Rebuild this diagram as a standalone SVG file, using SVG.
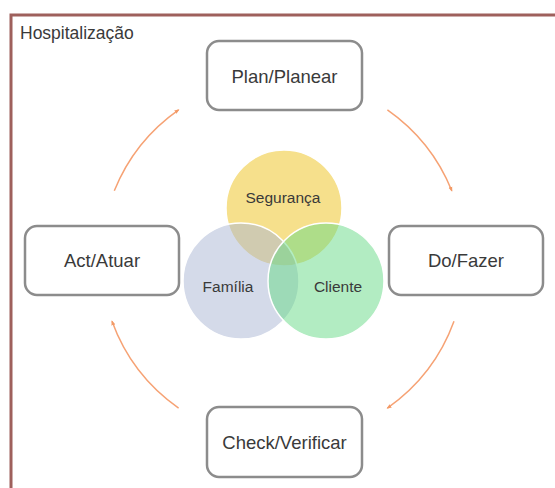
<svg xmlns="http://www.w3.org/2000/svg" width="555" height="488" viewBox="0 0 555 488">
  <defs>
    <marker id="ah" viewBox="0 0 10 10" refX="8" refY="5" markerWidth="5" markerHeight="5" orient="auto" markerUnits="userSpaceOnUse">
      <path d="M0,1 L10,5 L0,9 z" fill="#F39A66"/>
    </marker>
    <style>
      .box { fill: #ffffff; stroke: #8C8C8C; stroke-width: 2.5; }
      .lbl { font-family: "Liberation Sans", Arial, sans-serif; fill: #3A3A3A; text-anchor: middle; dominant-baseline: central; }
      .boxt { font-size: 18.5px; }
      .vt { font-size: 15.5px; fill: #3A3A3A; }
      .arc { fill: none; stroke: #F6A274; stroke-width: 1.5; marker-end: url(#ah); }
      .venn { stroke: #ffffff; stroke-width: 1.5; fill-opacity: 0.5; }
    </style>
  </defs>
  <rect x="0" y="0" width="555" height="488" fill="#ffffff"/>
  <g id="frame">
    <rect x="11" y="15" width="570" height="500" fill="none" stroke="#9E605C" stroke-width="3"/>
    <text class="lbl" x="20" y="33" style="text-anchor:start;font-size:17.5px">Hospitalização</text>
  </g>
  <g id="connectors">
    <path class="arc" d="M114.3,190.8 A182,182 0 0 1 178.6,109.9"/>
    <path class="arc" d="M387.4,109.9 A182,182 0 0 1 451.8,190.8"/>
    <path class="arc" d="M454.0,321.3 A182,182 0 0 1 387.4,408.1"/>
    <path class="arc" d="M178.6,408.1 A182,182 0 0 1 112.0,321.3"/>
  </g>
  <g id="venn">
    <g id="seguranca">
      <circle class="venn" cx="284" cy="208" r="58" fill="#EEC21A"/>
    </g>
    <g id="familia">
      <circle class="venn" cx="241" cy="281" r="58" fill="#A9B5D3"/>
    </g>
    <g id="cliente">
      <circle class="venn" cx="326" cy="281" r="58" fill="#66DA86"/>
    </g>
    <text class="lbl vt" x="283" y="197">Segurança</text>
    <text class="lbl vt" x="228" y="286">Família</text>
    <text class="lbl vt" x="338" y="286">Cliente</text>
  </g>
  <g id="plan">
    <rect class="box" x="207" y="41" width="155" height="69" rx="12"/>
    <text class="lbl boxt" x="284.5" y="76">Plan/Planear</text>
  </g>
  <g id="do">
    <rect class="box" x="389" y="226" width="154" height="69" rx="12"/>
    <text class="lbl boxt" x="466" y="260.5">Do/Fazer</text>
  </g>
  <g id="check">
    <rect class="box" x="207" y="407" width="155" height="70" rx="12"/>
    <text class="lbl boxt" x="284.5" y="442">Check/Verificar</text>
  </g>
  <g id="act">
    <rect class="box" x="25" y="226" width="154" height="69" rx="12"/>
    <text class="lbl boxt" x="102" y="260.5">Act/Atuar</text>
  </g>
</svg>
